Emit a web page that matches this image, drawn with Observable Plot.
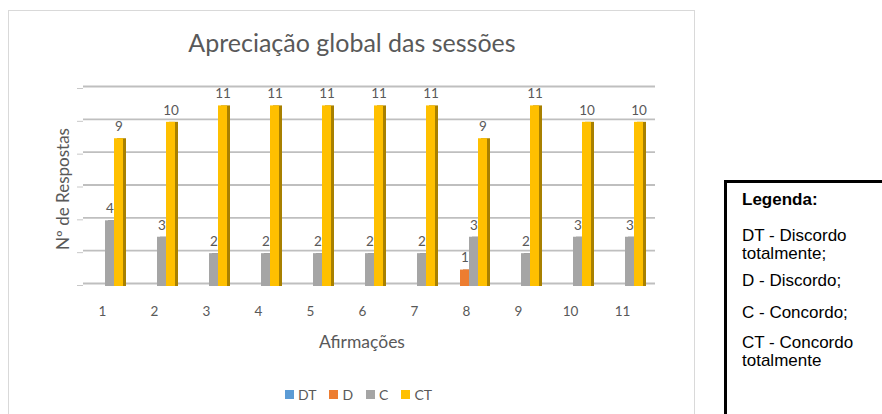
<!DOCTYPE html>
<html>
<head>
<meta charset="utf-8">
<script src="https://cdn.jsdelivr.net/npm/d3@7"></script>
<script src="https://cdn.jsdelivr.net/npm/@observablehq/plot@0.6"></script>
<style>
  html, body { margin: 0; padding: 0; background: #fff; }
  body { width: 882px; height: 414px; position: relative; overflow: hidden; font-family: Lato, "Open Sans", sans-serif; }
  #frame { position: absolute; left: 8px; top: 10px; width: 687px; height: 430px; border: 1.5px solid #d9d9d9; box-sizing: border-box; }
  #chart { position: absolute; left: 0; top: 0; }
  #title { position: absolute; left: 0; width: 704px; top: 42px; transform: translateY(-50%); text-align: center; font-size: 25px; color: #595959; font-weight: 400; white-space: nowrap; }
  #ylabel { position: absolute; left: 62px; top: 189px; transform: translate(-50%, -50%) rotate(-90deg); font-size: 17px; color: #595959; white-space: nowrap; }
  #xlabel { position: absolute; left: 362px; top: 341px; transform: translate(-50%, -50%); font-size: 17.5px; color: #595959; white-space: nowrap; }
  #legend { position: absolute; top: 386px; left: 285px; display: flex; align-items: center; font-size: 14px; color: #595959; }
  #legend .it { display: flex; align-items: center; margin-right: 13px; }
  #legend .sw { width: 9px; height: 9px; margin-right: 4px; }
  #box { position: absolute; left: 724px; top: 180px; width: 200px; height: 300px; border: 3px solid #000; box-sizing: border-box; font-family: "Liberation Sans", Arial, sans-serif; font-size: 17px; color: #000; }
  #box div { position: absolute; left: 15px; white-space: nowrap; line-height: 18px; }
</style>
</head>
<body>
<div id="frame"></div>
<div id="chart"></div>
<div id="title">Apreciação global das sessões</div>
<div id="ylabel">Nº de Respostas</div>
<div id="xlabel">Afirmações</div>
<div id="legend"></div>
<div id="box">
  <div style="top:8px;font-weight:bold">Legenda:</div>
  <div style="top:44px">DT - Discordo<br>totalmente;</div>
  <div style="top:89px">D - Discordo;</div>
  <div style="top:121px">C - Concordo;</div>
  <div style="top:151px">CT - Concordo<br>totalmente</div>
</div>
<script>
const afirmacoes = ["1","2","3","4","5","6","7","8","9","10","11"];
const series = ["DT","D","C","CT"];
const DT = [0,0,0,0,0,0,0,0,0,0,0];
const D  = [0,0,0,0,0,0,0,1,0,0,0];
const C  = [4,3,2,2,2,2,2,3,2,3,3];
const CT = [9,10,11,11,11,11,11,9,11,10,10];
const yTicks = [0,2,4,6,8,10,12];
const colors = ["#5B9BD5","#ED7D31","#A5A5A5","#FFC000"];
const sideColors = ["#3F75A8","#B25A1E","#7A7A7A","#A88000"];

const values = {DT, D, C, CT};
const data = [];
afirmacoes.forEach((a, i) => series.forEach(s => data.push({afirm: a, serie: s, v: values[s][i]})));
const shown = data.filter(d => d.v > 0);

const chart = Plot.plot({
  width: 700,
  height: 414,
  marginLeft: 75,
  marginRight: 52,
  marginTop: 89,
  marginBottom: 128,
  style: {fontFamily: "Lato, 'Open Sans', sans-serif", fontSize: "13.5px", color: "#595959", background: "transparent"},
  fx: {domain: afirmacoes, padding: 0, tickSize: 0, tickPadding: 20, label: null, axis: "bottom"},
  x: {domain: series, paddingInner: 0, paddingOuter: 0.742, axis: null},
  y: {domain: [0, 12], label: null, axis: null},
  color: {domain: series, range: colors},
  marks: [
    Plot.ruleY(yTicks, {stroke: "#bfbfbf", strokeWidth: 1.8, dx: 7, dy: -3}),
    Plot.axisY({ticks: yTicks, tickSize: 6, tickFormat: () => "", label: null, dx: 7, dy: -1, stroke: "#c8c8c8"}),
    Plot.barY(shown, {fx: "afirm", x: "serie", y: "v", fill: d => sideColors[series.indexOf(d.serie)], dx: 6}),
    Plot.barY(shown, {fx: "afirm", x: "serie", y: "v", fill: "serie", dx: 3}),
    Plot.text(shown, {fx: "afirm", x: "serie", y: "v", text: d => String(d.v), dy: -12, dx: 3, fill: "#595959", fontSize: 13.5})
  ]
});
document.getElementById("chart").appendChild(chart);

const leg = document.getElementById("legend");
series.forEach((s, i) => {
  const it = document.createElement("div");
  it.className = "it";
  it.innerHTML = `<span class="sw" style="background:${colors[i]}"></span><span>${s}</span>`;
  leg.appendChild(it);
});
</script>
</body>
</html>
